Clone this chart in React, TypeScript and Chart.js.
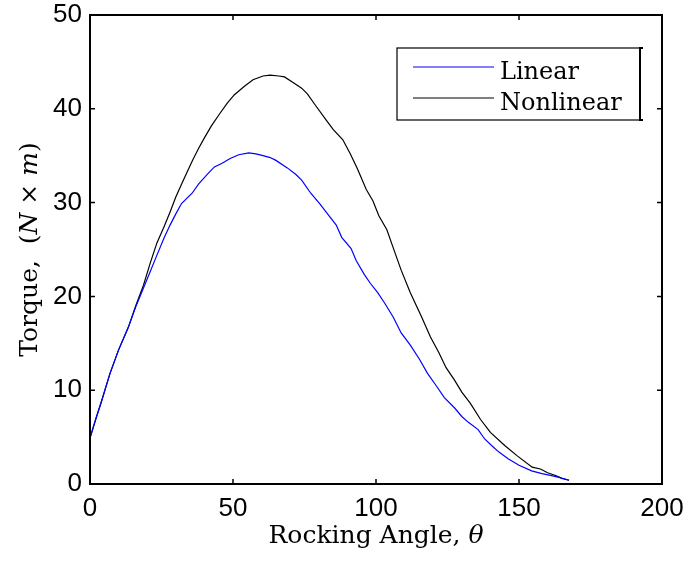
import React, { useEffect, useRef } from "react";
import { Chart, registerables } from "chart.js";

Chart.register(...registerables);

// ---- data ----
const angleLinear = [0, 2, 4, 7, 10, 13.4, 16, 18.7, 21, 23.4, 26, 28, 30, 32, 35.7, 38, 41, 43.5, 46.2, 49, 52, 55.5, 58, 60.5, 63, 65, 69, 72, 74, 77.2, 80.3, 83.8, 86.1, 88, 91.3, 93.1, 96, 98, 100.6, 103, 106, 108.8, 112, 115.2, 118, 121, 123.9, 127.5, 130, 132.2, 135.7, 138, 140.4, 143, 146.2, 150, 154.4, 158, 161.4, 164, 167.5];
const torqueLinear = [4.9, 6.9, 8.8, 11.8, 14.3, 16.7, 18.9, 20.9, 22.6, 24.4, 26.3, 27.6, 28.8, 29.9, 31.0, 32.0, 33.0, 33.8, 34.2, 34.7, 35.1, 35.3, 35.2, 35.0, 34.8, 34.5, 33.7, 33.0, 32.4, 31.0, 29.9, 28.5, 27.6, 26.3, 25.1, 23.8, 22.3, 21.4, 20.4, 19.3, 17.8, 16.1, 14.8, 13.3, 11.8, 10.5, 9.2, 8.1, 7.2, 6.6, 5.8, 4.8, 4.1, 3.4, 2.7, 2.0, 1.4, 1.1, 0.9, 0.7, 0.4];

const angleNonlinear = [0, 2, 4, 7, 10, 13.4, 16, 18.7, 21, 23.4, 26, 28, 30, 32.2, 34, 36, 38, 40, 42.5, 45.4, 48, 50.5, 54, 57, 60.5, 63, 66, 68, 71, 74, 76, 79, 82.6, 85, 88.4, 91, 93.5, 96.6, 98.9, 101, 103.8, 106, 108.8, 112, 115.8, 119, 122, 124.5, 127.4, 130, 133, 136.5, 140, 145, 149.4, 154.6, 157.5, 160, 162.8, 165, 167.5];
const torqueNonlinear = [4.9, 6.9, 8.8, 11.8, 14.3, 16.7, 19.0, 21.2, 23.5, 25.7, 27.5, 29.0, 30.6, 32.1, 33.3, 34.6, 35.8, 36.9, 38.2, 39.5, 40.6, 41.5, 42.4, 43.1, 43.5, 43.6, 43.5, 43.4, 42.8, 42.2, 41.6, 40.3, 38.8, 37.8, 36.7, 35.2, 33.6, 31.4, 30.2, 28.6, 27.1, 25.2, 22.8, 20.4, 17.9, 15.7, 14.0, 12.4, 11.1, 9.8, 8.6, 6.9, 5.5, 4.1, 3.0, 1.8, 1.6, 1.2, 0.9, 0.6, 0.4];

const xTicks = [0, 50, 100, 150, 200];
const yTicks = [0, 10, 20, 30, 40, 50];

const seriesLabels = ["Linear", "Nonlinear"];
const seriesColors = ["#0000ff", "#000000"];

type Seg = { text: string; italic: boolean };
const xTitle: Seg[] = [
  { text: "Rocking Angle, ", italic: false },
  { text: "θ", italic: true },
];
const yTitle: Seg[] = [
  { text: "Torque,  (", italic: false },
  { text: "N", italic: true },
  { text: " × ", italic: false },
  { text: "m", italic: true },
  { text: ")", italic: false },
];

const SERIF = '"DejaVu Serif"';
const SANS = '"Liberation Sans", Arial, sans-serif';
const TITLE_SIZE = 25;
const LEGEND_SIZE = 24;

function fontFor(seg: Seg, size: number) {
  return `${seg.italic ? "italic " : ""}${size}px ${SERIF}`;
}

function drawRich(ctx: CanvasRenderingContext2D, segs: Seg[], cx: number, baseline: number, size: number) {
  let total = 0;
  const widths = segs.map((s) => {
    ctx.font = fontFor(s, size);
    const w = ctx.measureText(s.text).width;
    total += w;
    return w;
  });
  let x = cx - total / 2;
  ctx.textAlign = "left";
  ctx.textBaseline = "alphabetic";
  segs.forEach((s, i) => {
    ctx.font = fontFor(s, size);
    ctx.fillText(s.text, x, baseline);
    x += widths[i];
  });
}

const framePlugin = {
  id: "matlabFrame",
  afterDraw(chart: any) {
    const { ctx, chartArea, scales } = chart;
    const { left, right, top, bottom } = chartArea;
    const xs = scales.x;
    const ys = scales.y;
    ctx.save();
    ctx.strokeStyle = "#000";
    ctx.fillStyle = "#000";

    // inward tick marks on all four sides
    const L = 5;
    ctx.lineWidth = 1.5;
    ctx.beginPath();
    for (const v of xTicks) {
      const px = xs.getPixelForValue(v);
      ctx.moveTo(px, bottom);
      ctx.lineTo(px, bottom - L);
      ctx.moveTo(px, top);
      ctx.lineTo(px, top + L);
    }
    for (const v of yTicks) {
      const py = ys.getPixelForValue(v);
      ctx.moveTo(left, py);
      ctx.lineTo(left + L, py);
      ctx.moveTo(right, py);
      ctx.lineTo(right - L, py);
    }
    ctx.stroke();

    // axes box
    ctx.lineWidth = 2;
    ctx.strokeRect(left, top, right - left, bottom - top);

    // axis titles
    drawRich(ctx, xTitle, (left + right) / 2, 543, TITLE_SIZE);
    ctx.save();
    ctx.translate(37, (top + bottom) / 2);
    ctx.rotate(-Math.PI / 2);
    drawRich(ctx, yTitle, 0, 0, TITLE_SIZE);
    ctx.restore();

    // legend
    const bx = 397, by = 48, bw = 243, bh = 72;
    ctx.fillStyle = "#fff";
    ctx.fillRect(bx, by, bw, bh);
    ctx.lineWidth = 1.2;
    ctx.strokeStyle = "#000";
    ctx.strokeRect(bx, by, bw, bh);
    // small bracket marks on the legend's right edge
    ctx.lineWidth = 2;
    ctx.beginPath();
    ctx.moveTo(bx + bw + 3, by);
    ctx.lineTo(bx + bw, by);
    ctx.lineTo(bx + bw, by + bh);
    ctx.lineTo(bx + bw + 3, by + bh);
    ctx.stroke();
    chart.data.datasets.forEach((ds: any, i: number) => {
      const ly = by + 19 + i * 31;
      ctx.strokeStyle = ds.borderColor;
      ctx.lineWidth = 1.2;
      ctx.beginPath();
      ctx.moveTo(bx + 16, ly);
      ctx.lineTo(bx + 97, ly);
      ctx.stroke();
      ctx.fillStyle = "#000";
      ctx.font = `${LEGEND_SIZE}px ${SERIF}`;
      ctx.textAlign = "left";
      ctx.textBaseline = "alphabetic";
      ctx.fillText(ds.label, bx + 103, ly + 12);
    });

    ctx.restore();
  },
};

export default function App() {
  const ref = useRef<HTMLCanvasElement | null>(null);

  useEffect(() => {
    document.body.style.margin = "0";
    const canvas = ref.current;
    if (!canvas) return;
    const chart = new Chart(canvas, {
      type: "line",
      data: {
        datasets: [
          {
            label: seriesLabels[0],
            data: angleLinear.map((a, i) => ({ x: a, y: torqueLinear[i] })),
            borderColor: seriesColors[0],
            borderWidth: 1.2,
            pointRadius: 0,
            tension: 0,
            fill: false,
          },
          {
            label: seriesLabels[1],
            data: angleNonlinear.map((a, i) => ({ x: a, y: torqueNonlinear[i] })),
            borderColor: seriesColors[1],
            borderWidth: 1.2,
            pointRadius: 0,
            tension: 0,
            fill: false,
          },
        ],
      },
      options: {
        responsive: false,
        animation: false,
        devicePixelRatio: 1,
        layout: { padding: { top: 15, right: 29, left: 0, bottom: 0 } },
        plugins: {
          legend: { display: false },
          tooltip: { enabled: false },
          title: { display: false },
        },
        scales: {
          x: {
            type: "linear",
            min: 0,
            max: 200,
            afterFit: (s: any) => {
              s.height = 77;
              s.paddingLeft = 0;
              s.paddingRight = 0;
            },
            afterBuildTicks: (s: any) => {
              s.ticks = xTicks.map((v) => ({ value: v }));
            },
            grid: { display: false, drawTicks: false },
            border: { display: false },
            ticks: {
              color: "#000",
              font: { family: SANS, size: 26 },
              padding: 9,
              maxRotation: 0,
              autoSkip: false,
            },
          },
          y: {
            type: "linear",
            min: 0,
            max: 50,
            afterFit: (s: any) => {
              s.width = 90;
              s.paddingTop = 0;
              s.paddingBottom = 0;
            },
            afterBuildTicks: (s: any) => {
              s.ticks = yTicks.map((v) => ({ value: v }));
            },
            grid: { display: false, drawTicks: false },
            border: { display: false },
            ticks: {
              color: "#000",
              font: { family: SANS, size: 26 },
              padding: 8,
              autoSkip: false,
            },
          },
        },
      },
      plugins: [framePlugin],
    });
    return () => chart.destroy();
  }, []);

  return (
    <canvas
      ref={ref}
      width={691}
      height={561}
      style={{ display: "block", width: 691, height: 561 }}
    />
  );
}
